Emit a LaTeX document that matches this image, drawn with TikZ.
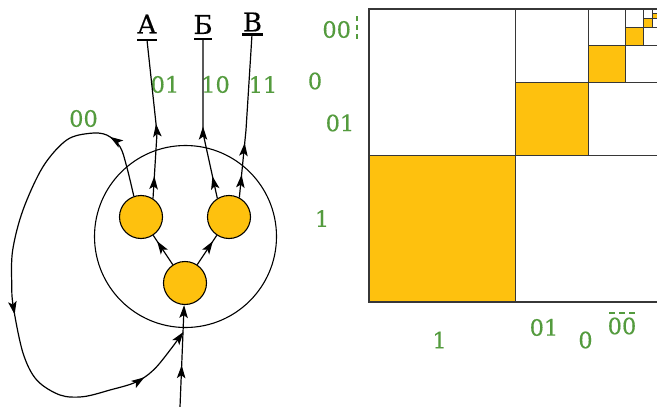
\documentclass[tikz,border=0pt]{standalone}
\usepackage{fontspec}
\setmainfont{DejaVu Serif}
\newfontfamily\heavyserif[FakeBold=0.35]{DejaVu Serif}
\usetikzlibrary{arrows.meta,decorations.markings}
\definecolor{gr}{RGB}{84,155,62}
\definecolor{orng}{RGB}{254,193,14}
\definecolor{ln}{RGB}{55,55,55}
\tikzset{headtip/.tip={Stealth[length=13pt,width=8.5pt,inset=3pt]}}
\newcommand{\ahd}{\arrow{headtip}}
\begin{document}
\begin{tikzpicture}[x=1pt,y=-1pt,
  lbl/.style={text=gr, font=\heavyserif\fontsize{22.5}{24}\selectfont, inner sep=0pt},
  letr/.style={font=\heavyserif\fontsize{26}{28}\selectfont, inner sep=0pt},
  neuron/.style={circle, draw, fill=orng, minimum size=43pt, inner sep=0pt, line width=1.1pt},
  conn/.style={line width=1.2pt},
  endtip/.style={-headtip},
  ulin/.style={line width=2.2pt},
  grid/.style={draw=ln, line width=1.1pt},
  gdash/.style={draw=gr, line width=1.4pt, dash pattern=on 5pt off 4pt}
]
\useasboundingbox (0,0) rectangle (657,407);

% ---------- right: nested squares ----------
\begin{scope}
\clip (0,0) rectangle (657,407);
\foreach \k in {0,...,7} {
  \pgfmathsetmacro\S{293/2^\k}
  \pgfmathsetmacro\X{662-\S}
  \fill[orng] (\X,{9+\S/2}) rectangle ({\X+\S/2},{9+\S});
  \draw[grid] (\X,9) rectangle ({\X+\S},{9+\S});
  \draw[grid] ({\X+\S/2},9) -- ({\X+\S/2},{9+\S});
  \draw[grid] (\X,{9+\S/2}) -- ({\X+\S},{9+\S/2});
}
\end{scope}

% labels of the squares
\node[lbl] (r00) at (336.7,29.5) {00};
\coordinate (d1) at (357,16);
\coordinate (d2) at (357,42);
\draw[gdash] (d1) -- (d2);
\node[lbl] (r0) at (315,81) {0};
\node[lbl] (r01) at (340,123) {01};
\node[lbl] (r1) at (322,218.5) {1};
\node[lbl] (b1) at (439.5,340) {1};
\node[lbl] (b01) at (544,327.5) {01};
\node[lbl] (b0) at (585.5,340) {0};
\node[lbl] (b00) at (622,326) {00};
\coordinate (e1) at (609,313);
\coordinate (e2) at (636,313);
\draw[gdash, dash pattern=on 6pt off 4pt] (e1) -- (e2);

% ---------- left: network ----------
\node[circle, draw, line width=1.1pt, minimum size=182pt, inner sep=0pt] (C) at (185.5,236.5) {};
\node[neuron] (L) at (141,217) {};
\node[neuron] (R) at (229,217) {};
\node[neuron] (B) at (185,283) {};

% output letters
\node[letr] (A) at (147,24) {А};
\node[letr] (Be) at (203,24.5) {Б};
\node[letr] (V) at (252.5,22) {В};
\coordinate (uA) at (147,40);
\coordinate (uB) at (203,39);
\coordinate (uV) at (252,34.5);
\draw[ulin] (137,40) -- (157,40);
\draw[ulin] (194,39) -- (212,39);
\draw[ulin] (242,34.5) -- (263,34.5);

% output codes
\node[lbl] (c01) at (165,84.5) {01};
\node[lbl] (c10) at (215.5,84.5) {10};
\node[lbl] (c11) at (263,84.5) {11};
\node[lbl] (c00) at (83.5,118.5) {00};

% connectors B -> L, B -> R
\draw[conn, postaction={decorate}, decoration={markings, mark=at position 0.8 with {\ahd}}] (B) -- (L);
\draw[conn, postaction={decorate}, decoration={markings, mark=at position 0.8 with {\ahd}}] (B) -- (R);

% outputs to letters
\coordinate (kA) at (157,133);
\coordinate (kB) at (203,133);
\coordinate (kV) at (246,130);
\draw[conn, postaction={decorate}, decoration={markings, mark=at position 0.14 with {\ahd}, mark=at position 0.47 with {\ahd}}]
  (L.57) -- (kA) -- (uA);
\draw[conn, postaction={decorate}, decoration={markings, mark=at position 0.14 with {\ahd}, mark=at position 0.455 with {\ahd}}]
  (R.122) -- (kB) -- (uB);
\draw[conn, postaction={decorate}, decoration={markings, mark=at position 0.14 with {\ahd}, mark=at position 0.335 with {\ahd}}]
  (R.62) -- (kV) -- (uV);

% input
\coordinate (in) at (180,407);
\draw[conn, endtip, postaction={decorate}, decoration={markings, mark=at position 0.41 with {\ahd}}] (in) -- (B);

% feedback loop 00
\coordinate (join) at (183.4,332);
\draw[conn, endtip, postaction={decorate}, decoration={markings,
    mark=at position 0.12 with {\ahd},
    mark=at position 0.55 with {\ahd},
    mark=at position 0.89 with {\ahd}}]
  plot[smooth, tension=0.55] coordinates {(L.109) (126.7,166.7) (120,146.7) (106.7,135) (90,133.3) (66.7,140) (43,166.7) (23,210) (12.7,250) (11.7,283) (13.3,306.7) (23,353) (36.7,380) (60,395) (83,396.7) (110,390) (136.7,381.7) (156.7,366.7) (join)};
\end{tikzpicture}
\end{document}
